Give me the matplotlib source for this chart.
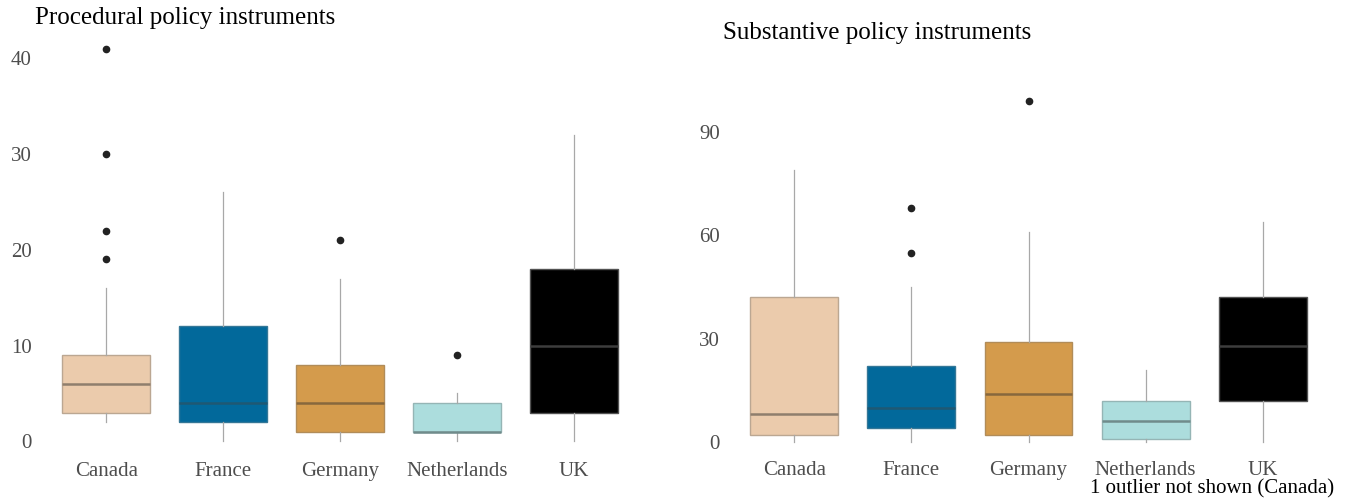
import matplotlib
matplotlib.use("Agg")
import matplotlib.pyplot as plt
from matplotlib.colors import to_rgb

countries = ["Canada", "France", "Germany", "Netherlands", "UK"]
fills = ["#EBCBAC", "#02699B", "#D49B4C", "#ACDDDD", "#000000"]

# procedural policy instruments (box stats)
proc_whislo = [2, 0, 0, 0, 0]
proc_q1 = [3, 2, 1, 1, 3]
proc_med = [6, 4, 4, 1, 10]
proc_q3 = [9, 12, 8, 4, 18]
proc_whishi = [16, 26, 17, 5, 32]
proc_fliers = [[19, 22, 30, 41], [], [21], [9], []]

# substantive policy instruments
subs_whislo = [0, 0, 0, 0, 0]
subs_q1 = [2, 4, 2, 1, 12]
subs_med = [8, 10, 14, 6, 28]
subs_q3 = [42, 22, 29, 12, 42]
subs_whishi = [79, 45, 61, 21, 64]
subs_fliers = [[], [68, 55], [99], [], []]

plt.rcParams["font.family"] = ["Liberation Serif", "DejaVu Serif"]

fig = plt.figure(figsize=(13.46, 5.01), dpi=100)
ax1 = fig.add_axes([36 / 1346, 40 / 501, 608 / 1346, 432 / 501])
ax2 = fig.add_axes([724 / 1346, 42 / 501, 609 / 1346, 375 / 501])


def shade(c, k, g):
    rgb = to_rgb(c)
    g = g + 0.2 * (1 - max(rgb))
    return tuple(min(1, k * v + g) for v in rgb)


def draw(ax, lo, q1, med, q3, hi, fliers, yticks, ylim, pad):
    stats = []
    for i in range(len(countries)):
        stats.append(dict(label=countries[i], whislo=lo[i], q1=q1[i], med=med[i],
                          q3=q3[i], whishi=hi[i], fliers=fliers[i]))
    parts = ax.bxp(stats, positions=range(len(countries)), widths=0.75,
                   patch_artist=True, showcaps=False,
                   boxprops=dict(linewidth=1.0),
                   medianprops=dict(linewidth=1.8),
                   whiskerprops=dict(color="#a8a8a8", linewidth=0.9),
                   flierprops=dict(marker="o", markersize=4.5, markerfacecolor="#222222",
                                   markeredgecolor="#222222"))
    for box, md, c in zip(parts["boxes"], parts["medians"], fills):
        box.set_facecolor(c)
        box.set_edgecolor(shade(c, 0.65, 0.12))
        md.set_color(shade(c, 0.55, 0.04))
    for s in ax.spines.values():
        s.set_visible(False)
    ax.set_xlim(-0.6, 4.6)
    ax.set_ylim(*ylim)
    ax.set_yticks(yticks)
    ax.tick_params(axis="both", length=0, labelsize=15, colors="#4d4d4d")
    ax.tick_params(axis="x", pad=pad)
    ax.tick_params(axis="y", pad=3)


draw(ax1, proc_whislo, proc_q1, proc_med, proc_q3, proc_whishi, proc_fliers,
     [0, 10, 20, 30, 40], (-2.05, 43.05), 0.5)
draw(ax2, subs_whislo, subs_q1, subs_med, subs_q3, subs_whishi, subs_fliers,
     [0, 30, 60, 90], (-4.95, 103.95), 1.5)

fig.text(35 / 1346, 1 - 18 / 501, "Procedural policy instruments", fontsize=18,
         va="center", ha="left", color="black")
fig.text(723 / 1346, 1 - 33 / 501, "Substantive policy instruments", fontsize=18,
         va="center", ha="left", color="black")
fig.text(1334 / 1346, 1 - 489 / 501, "1 outlier not shown (Canada)", fontsize=15,
         va="center", ha="right", color="black")

fig.savefig("out.png", dpi=100)
